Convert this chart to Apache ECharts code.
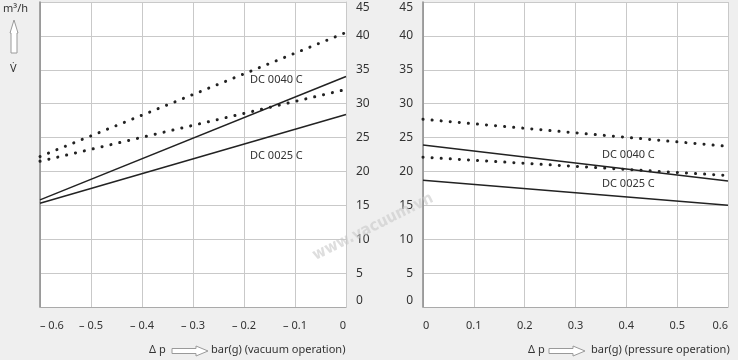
<!DOCTYPE html>
<html>
<head>
<meta charset="utf-8">
<script src="https://cdn.jsdelivr.net/npm/echarts@6/dist/echarts.min.js"></script>
<style>
html,body{margin:0;padding:0;background:#efefef;}
#c{width:738px;height:360px;}
</style>
</head>
<body>
<div id="c"></div>
<script>
// ---- data ----
const vacuumX = [-0.6, 0];
const vac0040Dotted = [22.2, 40.5];
const vac0025Dotted = [21.5, 32.1];
const vac0040Solid = [15.8, 34.0];
const vac0025Solid = [15.3, 28.4];

const pressureX = [0, 0.6];
const pres0040Dotted = [27.7, 23.7];
const pres0025Dotted = [22.1, 19.4];
const pres0040Solid = [23.9, 18.6];
const pres0025Solid = [18.7, 15.0];

const yTicks = {min: 0, max: 45, step: 5};
const seriesNames = ['DC 0040 C', 'DC 0025 C'];

function pairs(xs, ys){ return xs.map((x,i)=>[x, ys[i]]); }

const FONT = 'Noto Sans';
const TXT = '#333';
const GRIDC = '#c9c9c9';

function fmtX(v){
  if (Math.abs(v) < 1e-9) return '0';
  if (v < 0) return '\u2013 ' + Math.abs(v).toFixed(1);
  return v.toFixed(1);
}

function solid(name, xi, yi, xs, ys){
  return {type:'line', name, xAxisIndex:xi, yAxisIndex:yi, data:pairs(xs,ys), showSymbol:false, silent:true,
    lineStyle:{color:'#222', width:1.5}};
}
function dotted(name, xi, yi, xs, ys){
  return {type:'line', name, xAxisIndex:xi, yAxisIndex:yi, data:pairs(xs,ys), showSymbol:false, silent:true,
    lineStyle:{color:'#222', width:3, type:[0.1, 9], cap:'round'}};
}

const xAxisCommon = {
  type:'value', interval:0.1,
  axisLine:{show:true, lineStyle:{color:'#aaa'}},
  axisTick:{show:false},
  splitLine:{show:true, lineStyle:{color:GRIDC}},
  axisLabel:{color:TXT, fontFamily:FONT, fontSize:11, margin:13, formatter:fmtX, alignMinLabel:'left', alignMaxLabel:'right'}
};
const yAxisCommon = {
  type:'value', min:yTicks.min, max:yTicks.max, interval:yTicks.step,
  axisTick:{show:false},
  splitLine:{show:true, lineStyle:{color:GRIDC}},
  axisLabel:{color:TXT, fontFamily:FONT, fontSize:12, margin:10, verticalAlignMaxLabel:'top', verticalAlignMinLabel:'bottom'}
};

function hArrow(x, y){
  // outline arrow pointing right, starting at (x, y center)
  return {type:'polygon', shape:{points:[[x, y-2.5],[x+24, y-2.5],[x+24, y-5],[x+36, y],[x+24, y+5],[x+24, y+2.5],[x, y+2.5]]},
    style:{fill:'#fff', stroke:'#9a9a9a', lineWidth:1}};
}

const chart = echarts.init(document.getElementById('c'), null, {renderer:'canvas'});
chart.setOption({
  backgroundColor:'#efefef',
  animation:false,
  grid:[
    {left:40, right:392, top:2, bottom:53, show:true, backgroundColor:'#fff', borderWidth:0},
    {left:423, right:10, top:2, bottom:53, show:true, backgroundColor:'#fff', borderWidth:0}
  ],
  xAxis:[
    Object.assign({}, xAxisCommon, {gridIndex:0, min:vacuumX[0], max:vacuumX[1]}),
    Object.assign({}, xAxisCommon, {gridIndex:1, min:pressureX[0], max:pressureX[1]})
  ],
  yAxis:[
    Object.assign({}, yAxisCommon, {gridIndex:0, position:'right', axisLine:{show:true, lineStyle:{color:'#c9c9c9'}}}),
    Object.assign({}, yAxisCommon, {gridIndex:1, position:'left', axisLine:{show:true, lineStyle:{color:'#8a8a8a', width:1.5}}}),
    {type:'value', gridIndex:0, position:'left', min:yTicks.min, max:yTicks.max, axisLine:{show:true, lineStyle:{color:'#8a8a8a', width:1.5}},
      axisLabel:{show:false}, axisTick:{show:false}, splitLine:{show:false}}
  ],
  series:[
    dotted(seriesNames[0], 0, 0, vacuumX, vac0040Dotted),
    dotted(seriesNames[1], 0, 0, vacuumX, vac0025Dotted),
    solid(seriesNames[0], 0, 0, vacuumX, vac0040Solid),
    solid(seriesNames[1], 0, 0, vacuumX, vac0025Solid),
    dotted(seriesNames[0], 1, 1, pressureX, pres0040Dotted),
    dotted(seriesNames[1], 1, 1, pressureX, pres0025Dotted),
    solid(seriesNames[0], 1, 1, pressureX, pres0040Solid),
    solid(seriesNames[1], 1, 1, pressureX, pres0025Solid)
  ],
  graphic:[
    {type:'text', left:250, top:74, style:{text:seriesNames[0], fill:TXT, font:'11px "Noto Sans"'}},
    {type:'text', left:250, top:150, style:{text:seriesNames[1], fill:TXT, font:'11px "Noto Sans"'}},
    {type:'text', left:602, top:149, style:{text:seriesNames[0], fill:TXT, font:'11px "Noto Sans"'}},
    {type:'text', left:602, top:178, style:{text:seriesNames[1], fill:TXT, font:'11px "Noto Sans"'}},
    // y unit label and arrow
    {type:'text', left:3, top:3, style:{text:'m³/h', fill:TXT, font:'11px "Noto Sans"'}},
    {type:'polygon', shape:{points:[[11,53],[11,33],[10,33],[14,20],[18,33],[17,33],[17,53]]}, style:{fill:'#fff', stroke:'#9a9a9a', lineWidth:1}},
    {type:'text', left:10, top:63, style:{text:'V\u0307', fill:TXT, font:'11px "Noto Sans"'}},
    // x titles
    {type:'text', left:149, top:344, style:{text:'Δ p', fill:TXT, font:'11px "Noto Sans"'}},
    hArrow(172, 351),
    {type:'text', left:211, top:344, style:{text:'bar(g) (vacuum operation)', fill:TXT, font:'11px "Noto Sans"'}},
    {type:'text', left:528, top:344, style:{text:'Δ p', fill:TXT, font:'11px "Noto Sans"'}},
    hArrow(549, 351),
    {type:'text', left:591, top:344, style:{text:'bar(g) (pressure operation)', fill:TXT, font:'11px "Noto Sans"'}},
    // watermark
    {type:'text', x:373, y:227, rotation:26.5*Math.PI/180, z:100,
      style:{text:'www.vacuum.vn', fill:'rgba(200,200,200,0.6)', font:'bold 16px "DejaVu Sans Condensed"', align:'center', verticalAlign:'middle'}}
  ]
});
</script>
</body>
</html>
